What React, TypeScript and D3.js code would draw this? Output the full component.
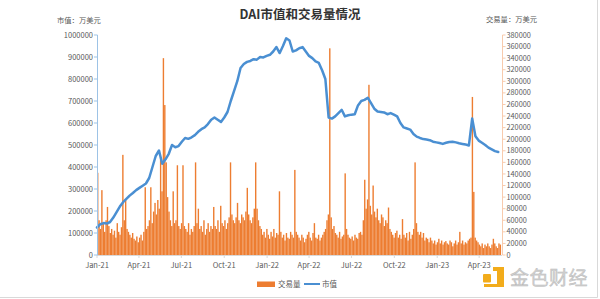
import React from "react";
import * as d3 from "d3";

// ---------- DATA ----------
const title = "DAI市值和交易量情况";
const leftUnit = "市值：万美元";
const rightUnit = "交易量：万美元";
const seriesNames = ["交易量", "市值"];
const xTickLabels = ["Jan-21", "Apr-21", "Jul-21", "Oct-21", "Jan-22", "Apr-22", "Jul-22", "Oct-22", "Jan-23", "Apr-23"];
const xTickDates = ["2021-01-01", "2021-04-01", "2021-07-01", "2021-10-01", "2022-01-01", "2022-04-01", "2022-07-01", "2022-10-01", "2023-01-01", "2023-04-01"];
const leftTicks = [0, 100000, 200000, 300000, 400000, 500000, 600000, 700000, 800000, 900000, 1000000];
const rightTicks = [0, 20000, 40000, 60000, 80000, 100000, 120000, 140000, 160000, 180000, 200000, 220000, 240000, 260000, 280000, 300000, 320000, 340000, 360000, 380000];

// market cap (万美元), one value every 7 days from 2021-01-01
const capStart = "2021-01-01";
const capStepDays = 7;
const capValues = [
  125000, 140000, 145000, 143000, 150000, 170000, 195000, 220000, 240000, 255000,
  270000, 282000, 295000, 305000, 315000, 325000, 350000, 400000, 450000, 475000,
  415000, 435000, 460000, 500000, 490000, 495000, 515000, 532000, 528000, 535000,
  545000, 560000, 572000, 580000, 595000, 615000, 625000, 615000, 605000, 625000,
  650000, 700000, 745000, 790000, 850000, 868000, 878000, 882000, 890000, 888000,
  900000, 898000, 905000, 910000, 925000, 945000, 918000, 950000, 985000, 975000,
  925000, 930000, 940000, 945000, 925000, 905000, 895000, 880000, 873000, 840000,
  800000, 625000, 620000, 630000, 645000, 660000, 630000, 635000, 638000, 640000,
  680000, 700000, 705000, 715000, 690000, 665000, 652000, 650000, 648000, 640000,
  645000, 638000, 630000, 600000, 580000, 575000, 570000, 550000, 538000, 532000,
  527000, 525000, 522000, 515000, 512000, 509000, 505000, 510000, 514000, 515000,
  512000, 508000, 505000, 502000, 498000, 620000, 540000, 520000, 510000, 500000,
  488000, 480000, 472000, 468000,
];

// trading volume (万美元), one bar every 3 days from 2021-01-01
const volStart = "2021-01-01";
const volStepDays = 3;
const volValues = [
  142000, 60000, 45000, 112000, 55000, 40000, 60000, 83000, 50000, 38000,
  45000, 35000, 42000, 30000, 55000, 40000, 35000, 48000, 173000, 60000,
  96000, 45000, 40000, 35000, 30000, 38000, 28000, 25000, 32000, 22000,
  30000, 35000, 25000, 40000, 117000, 45000, 50000, 60000, 117000, 55000,
  75000, 90000, 70000, 95000, 80000, 169000, 110000, 340000, 259000, 160000,
  100000, 75000, 60000, 50000, 110000, 55000, 60000, 155000, 50000, 45000,
  55000, 155000, 50000, 45000, 40000, 55000, 35000, 45000, 40000, 50000,
  160000, 55000, 80000, 45000, 50000, 40000, 60000, 35000, 45000, 55000,
  40000, 50000, 45000, 83000, 50000, 45000, 60000, 40000, 85000, 55000,
  50000, 60000, 45000, 55000, 65000, 160000, 70000, 60000, 55000, 65000,
  90000, 60000, 55000, 70000, 65000, 60000, 75000, 116000, 70000, 60000,
  55000, 65000, 80000, 160000, 80000, 60000, 50000, 45000, 35000, 40000,
  30000, 45000, 35000, 28000, 40000, 32000, 45000, 30000, 38000, 35000,
  110000, 40000, 30000, 35000, 25000, 38000, 30000, 28000, 40000, 35000,
  30000, 147000, 40000, 35000, 30000, 25000, 35000, 30000, 22000, 28000,
  35000, 40000, 30000, 25000, 38000, 55000, 30000, 28000, 35000, 25000,
  30000, 35000, 40000, 45000, 60000, 70000, 357000, 65000, 45000, 50000,
  38000, 35000, 30000, 40000, 28000, 32000, 35000, 141000, 45000, 35000,
  30000, 28000, 32000, 25000, 35000, 30000, 28000, 38000, 40000, 35000,
  60000, 130000, 80000, 96000, 294000, 85000, 70000, 120000, 75000, 65000,
  80000, 60000, 55000, 70000, 65000, 50000, 60000, 55000, 82000, 45000,
  40000, 35000, 30000, 38000, 42000, 30000, 35000, 28000, 62000, 35000,
  30000, 38000, 25000, 40000, 28000, 35000, 45000, 160000, 55000, 40000,
  35000, 40000, 30000, 38000, 25000, 30000, 28000, 22000, 30000, 25000,
  20000, 25000, 18000, 22000, 28000, 20000, 25000, 18000, 22000, 24000,
  20000, 18000, 25000, 22000, 15000, 20000, 25000, 18000, 22000, 40000,
  20000, 25000, 18000, 22000, 20000, 25000, 28000, 30000, 273000, 109000,
  30000, 25000, 22000, 18000, 15000, 20000, 12000, 18000, 15000, 20000,
  15000, 12000, 18000, 28000, 20000, 15000, 12000, 20000, 18000,
];

// ---------- CHART ----------
const W = 600;
const H = 299;
const plot = { left: 97, right: 502, top: 35, bottom: 255 };
const FONT = "'Noto Sans CJK SC', 'Noto Sans', sans-serif";
const ORANGE = "#ED7D31";
const BLUE = "#4A8FD2";
const LABEL = "#595959";

const day = 24 * 3600 * 1000;
const parse = (s: string) => new Date(s + "T00:00:00Z");

export default function App() {
  const x = d3.scaleUtc().domain([parse("2021-01-01"), parse("2023-05-20")]).range([plot.left, plot.right]);
  const yL = d3.scaleLinear().domain([0, 1000000]).range([plot.bottom, plot.top]);
  const yR = d3.scaleLinear().domain([0, 380000]).range([plot.bottom, plot.top]);

  const capT0 = parse(capStart).getTime();
  const capPts = capValues.map((v, i) => [new Date(capT0 + i * capStepDays * day), v] as [Date, number]);
  const line = d3
    .line<[Date, number]>()
    .x((d) => x(d[0]))
    .y((d) => yL(d[1]));

  const volT0 = parse(volStart).getTime();
  const bars = volValues.map((v, i) => {
    const x0 = x(new Date(volT0 + i * volStepDays * day));
    const x1 = x(new Date(volT0 + (i + 1) * volStepDays * day));
    return { x: x0, w: x1 - x0, y: yR(v), h: plot.bottom - yR(v) };
  });

  return (
    <div style={{ position: "fixed", left: 0, top: 0 }}>
      <svg width={W} height={H} style={{ display: "block", background: "#fff" }} fontFamily={FONT}>
        <rect x={0} y={0} width={W} height={H} fill="#fff" />
        {/* border */}
        <line x1={597.5} y1={0} x2={597.5} y2={297.5} stroke="#d9d9d9" />
        <line x1={0} y1={297.5} x2={597.5} y2={297.5} stroke="#d9d9d9" />

        {/* title */}
        <text x={300} y={19} textAnchor="middle" fontSize={12.5} fontWeight="bold" fill="#333">
          {title}
        </text>
        <text x={57} y={23} fontSize={7.3} fill={LABEL}>
          {leftUnit}
        </text>
        <text x={486} y={22} fontSize={7.3} fill={LABEL}>
          {rightUnit}
        </text>

        {/* volume bars */}
        <g fill={ORANGE}>
          {bars.map((b, i) => (
            <rect key={i} x={b.x} y={b.y} width={b.w} height={b.h} />
          ))}
        </g>

        {/* x axis */}
        <line x1={plot.left} x2={plot.right} y1={plot.bottom + 0.5} y2={plot.bottom + 0.5} stroke="#d9d9d9" />
        {xTickDates.map((d, i) => {
          const xx = x(parse(d));
          return (
            <g key={d}>
              <line x1={xx} x2={xx} y1={plot.bottom} y2={plot.bottom + 3} stroke="#d9d9d9" />
              <text x={xx} y={268} textAnchor="middle" fontSize={7.5} fill={LABEL}>
                {xTickLabels[i]}
              </text>
            </g>
          );
        })}

        {/* market cap line */}
        <path d={line(capPts) || ""} fill="none" stroke={BLUE} strokeWidth={2.5} strokeLinejoin="round" strokeLinecap="round" />

        {/* left axis */}
        <line x1={plot.left + 0.5} x2={plot.left + 0.5} y1={plot.top} y2={plot.bottom} stroke="#9DC3E6" />
        {leftTicks.map((t) => (
          <g key={t}>
            <line x1={plot.left - 3} x2={plot.left + 0.5} y1={yL(t)} y2={yL(t)} stroke="#9DC3E6" />
            <text x={plot.left - 4} y={yL(t) + 2.6} textAnchor="end" fontSize={7.5} fill={LABEL}>
              {t}
            </text>
          </g>
        ))}

        {/* right axis */}
        <line x1={plot.right + 0.5} x2={plot.right + 0.5} y1={plot.top} y2={plot.bottom} stroke="#F8CBAD" />
        {rightTicks.map((t) => (
          <g key={t}>
            <line x1={plot.right + 0.5} x2={plot.right + 3.5} y1={yR(t)} y2={yR(t)} stroke="#F8CBAD" />
            <text x={plot.right + 4.5} y={yR(t) + 2.6} fontSize={7.3} fill={LABEL}>
              {t}
            </text>
          </g>
        ))}

        {/* legend */}
        <rect x={257} y={281.5} width={18} height={5.5} fill={ORANGE} />
        <text x={278} y={287} fontSize={7.5} fill={LABEL}>
          {seriesNames[0]}
        </text>
        <line x1={304} x2={320} y1={284} y2={284} stroke={BLUE} strokeWidth={2} />
        <text x={322} y={287} fontSize={7.5} fill={LABEL}>
          {seriesNames[1]}
        </text>

        {/* watermark */}
        <g fill="#F2AC1B">
          <rect x={483} y={274} width={8} height={8.5} rx={1} />
          <path d="M493,267 L504,267 L504,287 L484,287 L484,284 L497,284 L497,271 L493,271 Z" />
        </g>
        <text x={510} y={285} fontSize={19} fill="#d0d0d0" stroke="#b8b8b8" strokeWidth={0.4} letterSpacing={0.5}>
          金色财经
        </text>
      </svg>
    </div>
  );
}
